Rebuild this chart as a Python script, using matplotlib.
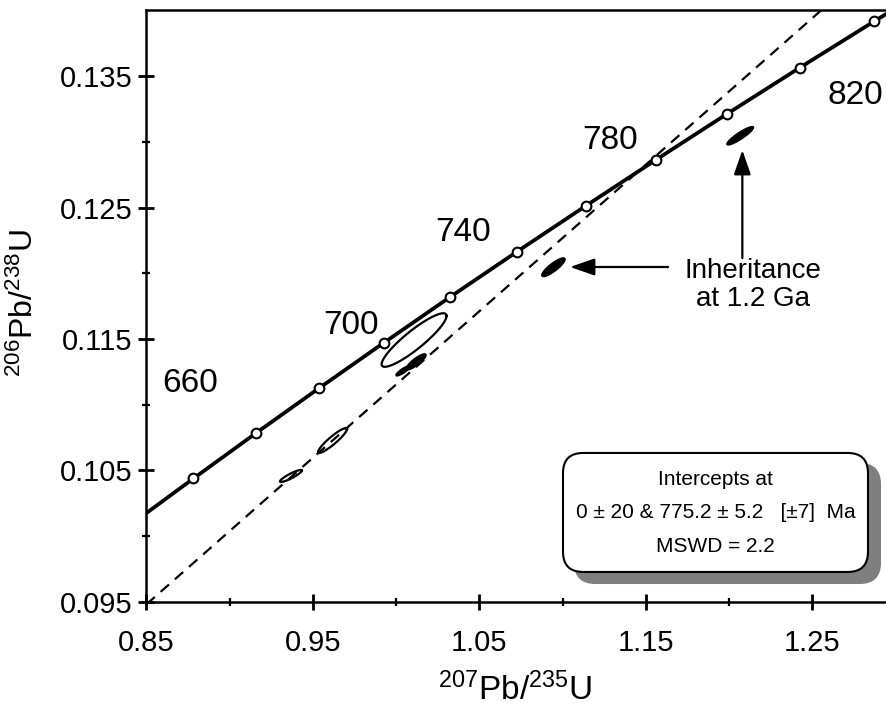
import numpy as np
import matplotlib
matplotlib.use("Agg")
import matplotlib.pyplot as plt
from matplotlib.patches import FancyBboxPatch
from matplotlib.ticker import FixedLocator

plt.rcParams["font.family"] = ["Liberation Sans", "DejaVu Sans"]
plt.rcParams["mathtext.default"] = "regular"

# concordia points (Ma) and their ratios
conc_age = [620, 640, 660, 680, 700, 720, 740, 760, 780, 800, 820, 840, 860]
conc_x = [0.84156, 0.87823, 0.91554, 0.95364, 0.99250, 1.03214, 1.07256,
          1.11379, 1.15584, 1.19872, 1.24246, 1.28707, 1.33256]
conc_y = [0.10096, 0.10438, 0.10781, 0.11125, 0.11470, 0.11817, 0.12164,
          0.12512, 0.12862, 0.13213, 0.13565, 0.13917, 0.14271]
label_ages = [660, 700, 740, 780, 820]

# discordia (dashed) end points
disc_x = [0.85, 1.30]
disc_y = [0.0948, 0.1450]

# analysis ellipses: centre, 2s errors, error correlation, filled?
ell_x = [1.0108, 0.9618, 0.9368, 1.0041, 1.0120, 1.0945, 1.2067]
ell_y = [0.11492, 0.10727, 0.10457, 0.11257, 0.11326, 0.12046, 0.13047]
ell_sx = [0.0195, 0.0087, 0.0066, 0.0042, 0.0060, 0.0070, 0.0080]
ell_sy = [0.00204, 0.00095, 0.00046, 0.00038, 0.00061, 0.00071, 0.00070]
ell_rho = [0.90, 0.92, 0.90, 0.85, 0.85, 0.85, 0.90]
ell_fill = [False, False, False, True, True, True, True]

x_major = [0.85, 0.95, 1.05, 1.15, 1.25]
y_major = [0.095, 0.105, 0.115, 0.125, 0.135]

# label offsets in pixels (dx, dy up)
lab_off = {660: (-65, 50), 700: (-33, 17), 740: (-54, 19),
           780: (-45, 20), 820: (56, -28)}

fig = plt.figure(figsize=(8.86, 7.15), dpi=100)
ax = fig.add_axes([0.1653, 0.1585, 0.8454, 0.8276])
ax.set_xlim(0.85, 1.30)
ax.set_ylim(0.095, 0.14005)

# discordia
ax.plot(disc_x, disc_y, color="black", lw=1.6, ls=(0, (5, 3.5)), zorder=2)

# ellipses
t = np.linspace(0, 2 * np.pi, 200)
for cx, cy, sx, sy, r, f in zip(ell_x, ell_y, ell_sx, ell_sy, ell_rho, ell_fill):
    ex = cx + sx * np.cos(t)
    ey = cy + sy * (r * np.cos(t) + np.sqrt(1 - r * r) * np.sin(t))
    if f:
        ax.fill(ex, ey, color="black", lw=1.0, zorder=3)
    else:
        ax.plot(ex, ey, color="black", lw=1.6, zorder=3)

# concordia
ax.plot(conc_x, conc_y, color="black", lw=2.7, marker="o", ms=7,
        mfc="white", mec="black", mew=1.5, zorder=4)
for a in label_ages:
    i = conc_age.index(a)
    dx, dy = lab_off[a]
    ax.annotate(str(a), (conc_x[i], conc_y[i]), xytext=(dx * 0.72, dy * 0.72),
                textcoords="offset points", ha="center", va="center",
                fontsize=24)

# inheritance arrows + text
ax.annotate("", xy=(1.1045, 0.12048), xytext=(1.1634, 0.12048),
            arrowprops=dict(arrowstyle="-|>,head_length=0.75,head_width=0.26",
                            mutation_scale=20, lw=1.6, color="black",
                            shrinkA=0, shrinkB=0))
ax.annotate("", xy=(1.2080, 0.12938), xytext=(1.2080, 0.12116),
            arrowprops=dict(arrowstyle="-|>,head_length=0.75,head_width=0.26",
                            mutation_scale=20, lw=1.6, color="black",
                            shrinkA=0, shrinkB=0))
ax.text(1.2145, 0.11911, "Inheritance\nat 1.2 Ga", ha="center", va="center",
        fontsize=20, linespacing=1.12)

# intercept box with shadow
bx0, by0, bw, bh = 0.5561, 0.0502, 0.4072, 0.2011
asp = 749 / 591.7
for dx, dy, fc, z in [(12 / 749, -11 / 591.7, "#7f7f7f", 5), (0, 0, "white", 6)]:
    box = FancyBboxPatch((bx0 + dx, by0 + dy), bw, bh,
                         boxstyle="round,pad=0,rounding_size=0.027",
                         mutation_aspect=asp, transform=ax.transAxes,
                         facecolor=fc, edgecolor="black" if fc == "white" else fc,
                         lw=1.5, zorder=z, clip_on=False)
    ax.add_patch(box)
cx = bx0 + bw / 2
ax.text(cx, 0.2057, "Intercepts at", transform=ax.transAxes, ha="center",
        va="center", fontsize=15, zorder=7)
ax.text(cx, 0.1499, "0 \u00b1 20 & 775.2 \u00b1 5.2   [\u00b17]  Ma",
        transform=ax.transAxes, ha="center", va="center", fontsize=15, zorder=7)
ax.text(cx, 0.0924, "MSWD = 2.2", transform=ax.transAxes, ha="center",
        va="center", fontsize=15, zorder=7)

# axes styling
ax.spines["right"].set_visible(False)
for s in ["left", "bottom", "top"]:
    ax.spines[s].set_linewidth(1.8)
ax.xaxis.set_major_locator(FixedLocator(x_major))
ax.yaxis.set_major_locator(FixedLocator(y_major))
ax.xaxis.set_minor_locator(FixedLocator([0.90, 1.00, 1.10, 1.20, 1.30]))
ax.yaxis.set_minor_locator(FixedLocator([0.100, 0.110, 0.120, 0.130]))
ax.set_xticklabels([f"{v:.2f}" for v in x_major])
ax.set_yticklabels([f"{v:.3f}" for v in y_major])
ax.tick_params(which="major", direction="inout", length=12, width=2.0,
               labelsize=21)
ax.tick_params(which="minor", direction="inout", length=6, width=1.6)
ax.tick_params(axis="x", which="major", pad=14)
ax.tick_params(axis="y", which="major", pad=4)

fig.text(515 / 886, 1 - 690 / 715, "$^{207}$Pb/$^{235}$U", ha="center",
         va="center", fontsize=24)
fig.text(24 / 886, 1 - 303 / 715, "$^{206}$Pb/$^{238}$U", ha="center",
         va="center", fontsize=23, rotation=90)

fig.savefig("out.png", dpi=100)
